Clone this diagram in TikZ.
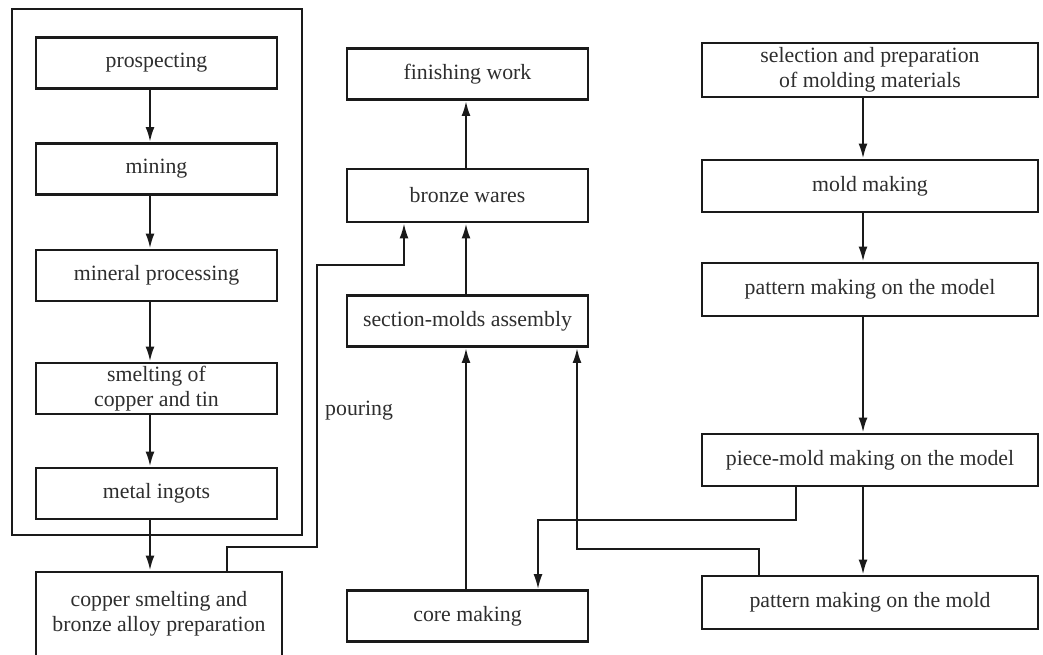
\documentclass[tikz,border=0pt]{standalone}
\usepackage{fontspec}
\setmainfont{Liberation Serif}
\usetikzlibrary{arrows.meta}
\definecolor{ink}{HTML}{1A1A1A}
\definecolor{txt}{HTML}{2E2E2E}
\begin{document}
\begin{tikzpicture}[x=1pt,y=-1pt,
  every node/.style={font=\fontsize{21.8}{24.5}\selectfont, text=txt},
  box/.style={draw=ink, line width=2.9pt, rectangle, inner sep=0pt, align=center},
  lbox/.style={box, minimum width=241pt, minimum height=51pt},
  mbox/.style={box, minimum width=241pt, minimum height=51pt},
  rbox/.style={box, minimum width=336pt, minimum height=52pt},
  tip/.style={-{Latex[length=15pt,width=9pt]}},
  arr/.style={draw=ink, line width=2.2pt, tip},
  thin/.style={draw=ink, line width=1.8pt},
  thinarr/.style={thin, tip}]
\useasboundingbox (0,0) rectangle (1043,654);
\fill[white] (0,0) rectangle (1043,654);
% outer frame
\draw[draw=ink, line width=2.9pt] (12,9) rectangle (302,535);
% column reference coordinates
\coordinate (colL) at (150,0);
\coordinate (colM) at (466,0);
\coordinate (colR) at (863,0);
% left column
\node[lbox] (pro) at (156.5,63) {prospecting};
\node[lbox] (min) at (156.5,169) {mining};
\node[lbox] (mpr) at (156.5,275.5) {mineral processing};
\node[lbox] (sme) at (156.5,388.5) {smelting of\\copper and tin};
\node[lbox] (ing) at (156.5,493.5) {metal ingots};
\node[box, minimum width=246pt, minimum height=84pt] (cu) at (159,614) {copper smelting and\\bronze alloy preparation};
% middle column
\node[mbox] (fin) at (467.5,74) {finishing work};
\node[mbox, minimum height=53pt] (brz) at (467.5,195.5) {bronze wares};
\node[mbox] (sec) at (467.5,321) {section-molds assembly};
\node[mbox] (cor) at (467.5,616) {core making};
% right column
\node[rbox, minimum height=54pt] (sel) at (870,70) {selection and preparation\\of molding materials};
\node[rbox] (mld) at (870,186) {mold making};
\node[rbox, minimum height=53pt] (pmo) at (870,289.5) {pattern making on the model};
\node[rbox] (pcm) at (870,460) {piece-mold making on the model};
\node[rbox, minimum height=53pt] (pml) at (870,602.5) {pattern making on the mold};
% pouring label
\node[anchor=west, inner sep=0pt] (pour) at (325,411) {pouring};
% left column arrows
\draw[arr] (pro.south -| colL) -- (min.north -| colL);
\draw[arr] (min.south -| colL) -- (mpr.north -| colL);
\draw[arr] (mpr.south -| colL) -- (sme.north -| colL);
\draw[arr] (sme.south -| colL) -- (ing.north -| colL);
\draw[arr] (ing.south -| colL) -- (cu.north -| colL);
% middle column arrows
\draw[arr] (brz.north -| colM) -- (fin.south -| colM);
\draw[arr] (sec.north -| colM) -- (brz.south -| colM);
\draw[arr] (cor.north -| colM) -- (sec.south -| colM);
% right column arrows
\draw[arr] (sel.south -| colR) -- (mld.north -| colR);
\draw[arr] (mld.south -| colR) -- (pmo.north -| colR);
\draw[arr] (pmo.south -| colR) -- (pcm.north -| colR);
\draw[arr] (pcm.south -| colR) -- (pml.north -| colR);
% pouring connector
\coordinate (pA) at (227,547);
\coordinate (pB) at (317,547);
\coordinate (pC) at (317,265);
\coordinate (pD) at (404,265);
\draw[thinarr] (cu.north -| pA) -- (pA) -- (pB) -- (pC) -- (pD) -- (brz.south -| pD);
% piece-mold -> core making
\coordinate (qA) at (796,520);
\coordinate (qB) at (538,520);
\draw[thinarr] (pcm.south -| qA) -- (qA) -- (qB) -- (cor.north -| qB);
% pattern on mold -> section-molds
\coordinate (rA) at (759,549);
\coordinate (rB) at (577,549);
\draw[arr] (pml.north -| rA) -- (rA) -- (rB) -- (sec.south -| rB);
\end{tikzpicture}
\end{document}
